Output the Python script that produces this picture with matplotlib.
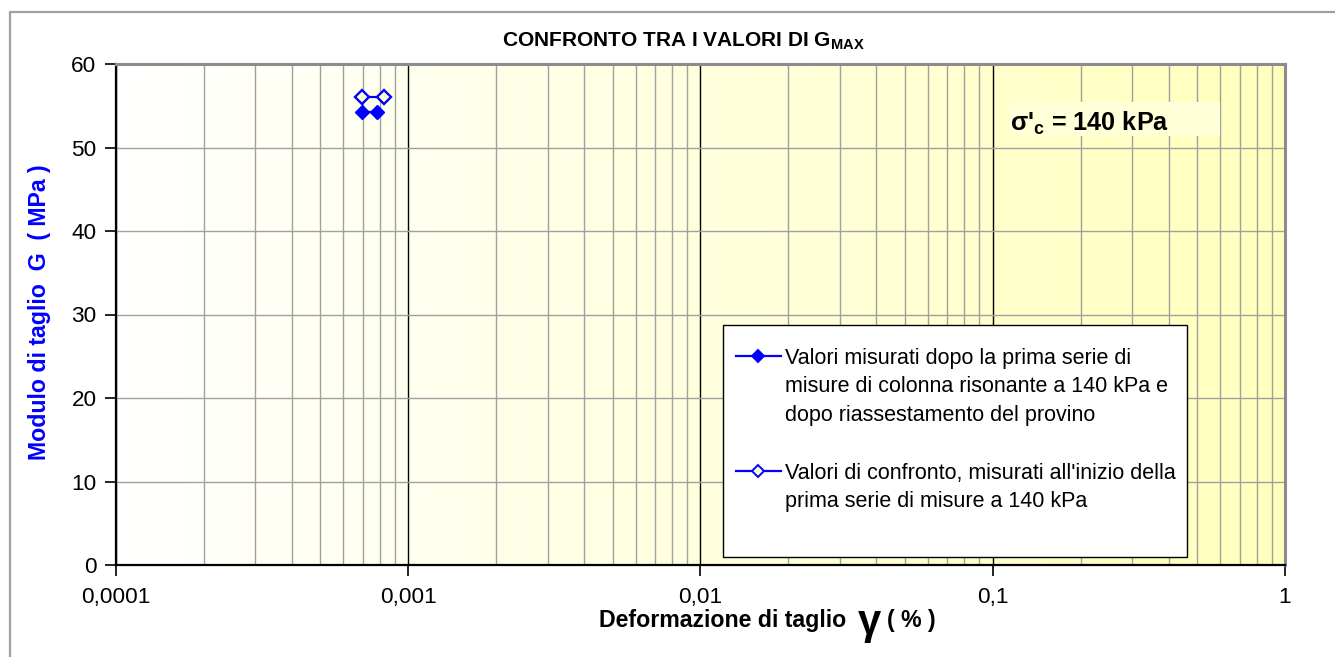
import numpy as np
import matplotlib
matplotlib.use("Agg")
import matplotlib.pyplot as plt
from matplotlib.ticker import LogLocator, FixedLocator, NullFormatter
from matplotlib.patches import Rectangle
from matplotlib.lines import Line2D

plt.rcParams['font.family'] = ['Liberation Sans', 'DejaVu Sans']
plt.rcParams['mathtext.fontset'] = 'custom'
plt.rcParams['mathtext.rm'] = 'Liberation Sans'
plt.rcParams['mathtext.bf'] = 'Liberation Sans:bold'
plt.rcParams['mathtext.it'] = 'Liberation Sans:italic'

# ---- data ----
strain_after = [0.000695, 0.000782]      # % (filled diamonds)
G_after = [54.2, 54.2]                   # MPa
strain_before = [0.000695, 0.000826]     # % (open diamonds)
G_before = [56.0, 56.0]                  # MPa

x_ticks = [0.0001, 0.001, 0.01, 0.1, 1]
x_ticklabels = ["0,0001", "0,001", "0,01", "0,1", "1"]
y_ticks = [0, 10, 20, 30, 40, 50, 60]

legend_1 = ["Valori misurati dopo la prima serie di",
            "misure di colonna risonante a 140 kPa e",
            "dopo riassestamento del provino"]
legend_2 = ["Valori di confronto, misurati all'inizio della",
            "prima serie di misure a 140 kPa"]

W, H = 1335, 657
fig = plt.figure(figsize=(W / 100, H / 100), dpi=100)
fig.patch.set_facecolor('white')

def fx(px):
    return px / W

def fy(py):
    return 1 - py / H

# outer chart frame
fig.patches.append(Rectangle((fx(10), fy(667)), fx(1345) - fx(10), fy(12) - fy(667),
                             transform=fig.transFigure, fill=False,
                             edgecolor='#a0a0a0', lw=1.6, zorder=0))

ax = fig.add_axes([fx(116), fy(565), fx(1285) - fx(116), fy(64) - fy(565)])
ax.set_xscale('log')
ax.set_xlim(1e-4, 1)
ax.set_ylim(0, 60)

# background gradient white -> pale yellow
grad = np.linspace(0, 1, 256)
col0 = np.array([1.0, 1.0, 1.0])
col1 = np.array([1.0, 1.0, 0.74])
img = (col0[None, :] * (1 - grad[:, None]) + col1[None, :] * grad[:, None])[None, :, :]
ax.imshow(img, extent=[0, 1, 0, 1], transform=ax.transAxes, aspect='auto', zorder=0)

# grid
ax.xaxis.set_major_locator(FixedLocator(x_ticks))
ax.set_xticklabels(x_ticklabels)
ax.xaxis.set_minor_locator(LogLocator(base=10, subs=np.arange(2, 10)))
ax.xaxis.set_minor_formatter(NullFormatter())
ax.yaxis.set_major_locator(FixedLocator(y_ticks))
ax.set_axisbelow(True)
ax.grid(which='major', axis='x', color='black', lw=1.0, zorder=1)
ax.grid(which='minor', axis='x', color='#a0a0a0', lw=1.0, zorder=1)
ax.grid(which='major', axis='y', color='#a0a0a0', lw=1.0, zorder=1)

ax.tick_params(which='minor', length=0)
ax.tick_params(which='major', direction='out', length=8, width=1.2, color='black',
               labelsize=16.2)
ax.tick_params(axis='x', pad=8)
ax.tick_params(axis='y', pad=6)

for s in ['top', 'right']:
    ax.spines[s].set_color('#8c8c8c')
    ax.spines[s].set_linewidth(2.2)
for s in ['left', 'bottom']:
    ax.spines[s].set_color('black')
    ax.spines[s].set_linewidth(1.6)

# data
ax.plot(strain_after, G_after, color='#0000ff', lw=1.6, marker='D', ms=7.2,
        mfc='#0000ff', mec='#0000ff', zorder=5, clip_on=False)
ax.plot(strain_before, G_before, color='#0000ff', lw=1.6, marker='D', ms=6.8,
        mfc='#ffffcc', mec='#0000ff', mew=1.7, zorder=5, clip_on=False)

# sigma annotation
fig.patches.append(Rectangle((fx(1009), fy(136)), fx(1220) - fx(1009), fy(102) - fy(136),
                             transform=fig.transFigure, facecolor='#ffffd8',
                             edgecolor='none', zorder=3))
fig.text(fx(1010), fy(131), "σ'$_{\\mathbf{c}}$ = 140 kPa", fontsize=18.2,
         fontweight='bold', ha='left', va='baseline', zorder=4)

# legend box
fig.patches.append(Rectangle((fx(723), fy(557)), fx(1187) - fx(723), fy(325) - fy(557),
                             transform=fig.transFigure, facecolor='white',
                             edgecolor='black', lw=1.0, zorder=3))
for yh, mfc in [(356, '#0000ff'), (471, '#ffffcc')]:
    fig.lines.append(Line2D([fx(736), fx(781)], [fy(yh), fy(yh)], transform=fig.transFigure,
                            color='#0000ff', lw=1.6, zorder=4))
    fig.lines.append(Line2D([fx(758)], [fy(yh)], transform=fig.transFigure,
                            marker='D', ms=6.0, mfc=mfc, mec='#0000ff', mew=1.4,
                            color='#0000ff', zorder=5))
for txt, yb in zip(legend_1, [364, 392.5, 420.5]):
    fig.text(fx(785), fy(yb), txt, fontsize=15.5, ha='left', va='baseline', zorder=5)
for txt, yb in zip(legend_2, [479, 507.5]):
    fig.text(fx(785), fy(yb), txt, fontsize=15.5, ha='left', va='baseline', zorder=5)

# title
fig.text(fx(683), fy(47), "CONFRONTO TRA I VALORI DI G$_{\\mathbf{MAX}}$", fontsize=15.0,
         fontweight='bold', ha='center', va='baseline')

# x label pieces
fig.text(fx(599), fy(627), "Deformazione di taglio", fontsize=16.7, fontweight='bold',
         ha='left', va='baseline')
fig.text(fx(869), fy(634), "γ", fontsize=30, fontweight='bold', ha='center',
         va='baseline')
fig.text(fx(887), fy(627), "( % )", fontsize=16.7, fontweight='bold',
         ha='left', va='baseline')

# y label
fig.text(fx(40), fy(312), "Modulo di taglio  G  ( MPa )", fontsize=16.7, fontweight='bold',
         color='#0000ff', rotation=90, ha='center', va='center')

fig.savefig("out.png", dpi=100)
